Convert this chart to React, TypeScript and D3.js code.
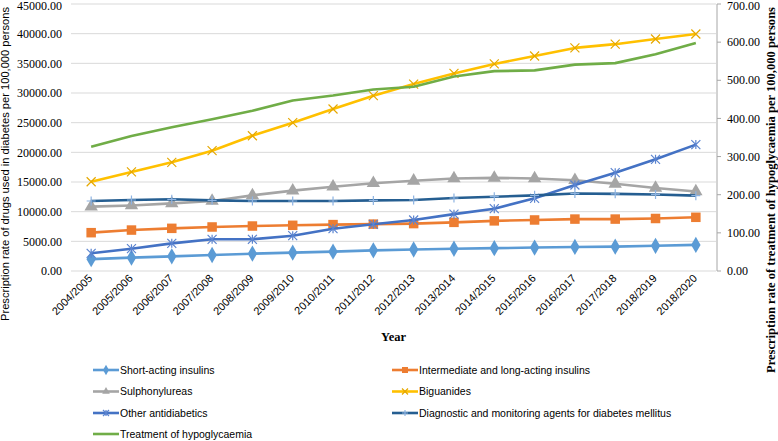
import React from "react";
import * as d3 from "d3";

const categories = ["2004/2005","2005/2006","2006/2007","2007/2008","2008/2009","2009/2010","2010/2011","2011/2012","2012/2013","2013/2014","2014/2015","2015/2016","2016/2017","2017/2018","2018/2019","2018/2020"];

const shortActing = [2000, 2250, 2470, 2700, 2920, 3090, 3260, 3480, 3620, 3750, 3850, 3950, 4050, 4100, 4250, 4400];
const intermediate = [6460, 6900, 7190, 7420, 7580, 7700, 7820, 7900, 7990, 8200, 8450, 8600, 8750, 8750, 8850, 9050];
const sulphonylureas = [10850, 11050, 11400, 11800, 12750, 13550, 14200, 14800, 15200, 15600, 15700, 15600, 15300, 14700, 14000, 13400];
const biguanides = [15050, 16700, 18320, 20280, 22800, 25000, 27300, 29550, 31500, 33300, 34900, 36240, 37600, 38230, 39100, 39950];
const otherAntidiabetics = [2980, 3760, 4660, 5340, 5340, 5950, 7130, 7870, 8600, 9580, 10500, 12250, 14490, 16570, 18820, 21300];
const diagnostic = [11800, 11970, 12080, 11910, 11800, 11800, 11800, 11900, 11970, 12300, 12520, 12750, 13050, 13000, 12900, 12700];
const hypoglycaemia = [326, 354, 377, 398, 420, 447, 460, 476, 483, 510, 524, 526, 541, 545, 568, 598];

const leftTicks = [0, 5000, 10000, 15000, 20000, 25000, 30000, 35000, 40000, 45000];
const rightTicks = [0, 100, 200, 300, 400, 500, 600, 700];

type Marker = "diamond" | "square" | "triangle" | "x" | "star" | "plus" | "none";
interface Series { name: string; values: number[]; color: string; markerColor: string; marker: Marker; axis: "left" | "right"; }

const series: Series[] = [
  { name: "Short-acting insulins", values: shortActing, color: "#5B9BD5", markerColor: "#4A8BC9", marker: "diamond", axis: "left" },
  { name: "Intermediate and long-acting insulins", values: intermediate, color: "#ED7D31", markerColor: "#E07020", marker: "square", axis: "left" },
  { name: "Sulphonylureas", values: sulphonylureas, color: "#A5A5A5", markerColor: "#999999", marker: "triangle", axis: "left" },
  { name: "Biguanides", values: biguanides, color: "#FFC000", markerColor: "#E6A800", marker: "x", axis: "left" },
  { name: "Other antidiabetics", values: otherAntidiabetics, color: "#4472C4", markerColor: "#5B84D0", marker: "star", axis: "left" },
  { name: "Diagnostic and monitoring agents for diabetes mellitus", values: diagnostic, color: "#255E91", markerColor: "#8DB3E2", marker: "plus", axis: "left" },
  { name: "Treatment of hypoglycaemia", values: hypoglycaemia, color: "#70AD47", markerColor: "#70AD47", marker: "none", axis: "right" },
];

const W = 778, H = 441;
const plotLeft = 71, plotRight = 716, plotTop = 4, plotBottom = 271;

function markerEl(m: Marker, x: number, y: number, color: string, s: number, key?: any) {
  const h = s / 2;
  switch (m) {
    case "diamond":
      return <path key={key} d={d3.symbol(d3.symbolDiamond, s * s * 0.85)()!} transform={`translate(${x},${y})`} fill={color} />;
    case "square":
      return <rect key={key} x={x - h} y={y - h} width={s} height={s} fill={color} />;
    case "triangle":
      return <path key={key} d={d3.symbol(d3.symbolTriangle, s * s * 0.7)()!} transform={`translate(${x},${y})`} fill={color} />;
    case "x":
      return <path key={key} d={`M${x - h},${y - h}L${x + h},${y + h}M${x - h},${y + h}L${x + h},${y - h}`} stroke={color} strokeWidth={1.2} fill="none" />;
    case "star":
      return <path key={key} d={`M${x - h},${y - h}L${x + h},${y + h}M${x - h},${y + h}L${x + h},${y - h}M${x},${y - h}L${x},${y + h}`} stroke={color} strokeWidth={1.2} fill="none" />;
    case "plus":
      return <path key={key} d={`M${x - h},${y}L${x + h},${y}M${x},${y - h}L${x},${y + h}`} stroke={color} strokeWidth={1.2} fill="none" />;
    default:
      return null;
  }
}

const markerSize: Record<Marker, number> = { diamond: 9.5, square: 9.5, triangle: 10.5, x: 9, star: 9, plus: 9, none: 0 };

export default function App() {
  const x = d3.scaleBand<string>().domain(categories).range([plotLeft, plotRight]);
  const cx = (c: string) => (x(c) as number) + x.bandwidth() / 2;
  const yL = d3.scaleLinear().domain([0, 45000]).range([plotBottom, plotTop]);
  const yR = d3.scaleLinear().domain([0, 700]).range([plotBottom, plotTop]);

  const legendCols = [93, 392];
  const legendRows = [370, 391.5, 413, 434];

  return (
    <div style={{ position: "fixed", left: 0, top: 0 }}>
      <svg width={W} height={H} style={{ display: "block", background: "#fff" }}>
        {/* gridlines */}
        {leftTicks.map((t) => (
          <line key={t} x1={plotLeft} x2={plotRight} y1={yL(t)} y2={yL(t)} stroke="#D9D9D9" strokeWidth={1} />
        ))}
        {/* left tick labels */}
        {leftTicks.map((t) => (
          <text key={t} x={62} y={Math.max(yL(t), 6)} dy="0.35em" textAnchor="end" fontFamily="'Liberation Serif', serif" fontSize={12} fill="#000">
            {t.toFixed(2)}
          </text>
        ))}
        {/* right axis */}
        <line x1={717} x2={717} y1={plotTop} y2={plotBottom} stroke="#A6A6A6" strokeWidth={1} />
        {rightTicks.map((t) => (
          <g key={t}>
            <line x1={717} x2={721} y1={yR(t)} y2={yR(t)} stroke="#A6A6A6" strokeWidth={1} />
            <text x={727} y={Math.max(yR(t), 6)} dy="0.35em" textAnchor="start" fontFamily="'Liberation Serif', serif" fontSize={12} fill="#000">
              {t.toFixed(2)}
            </text>
          </g>
        ))}
        {/* x labels */}
        {categories.map((c) => (
          <text key={c} transform={`translate(${cx(c) + 2},${279}) rotate(-45)`} textAnchor="end" fontFamily="'Liberation Sans', Arial, sans-serif" fontSize={11} fill="#000">
            {c}
          </text>
        ))}
        <text x={(plotLeft + plotRight) / 2} y={341} textAnchor="middle" fontFamily="'Liberation Serif', serif" fontWeight="bold" fontSize={12.5} fill="#000">
          Year
        </text>
        {/* axis titles */}
        <text transform="translate(9,7) rotate(-90)" textAnchor="end" fontFamily="'Liberation Sans', Arial, sans-serif" fontSize={10.5} textLength={314} lengthAdjust="spacingAndGlyphs" fill="#000">
          Prescription rate of drugs used in diabetes per 100,000 persons
        </text>
        <text transform="translate(775,7) rotate(-90)" textAnchor="end" fontFamily="'Liberation Serif', serif" fontWeight="bold" fontSize={11.5} textLength={366} lengthAdjust="spacingAndGlyphs" fill="#000">
          Prescription rate of treatment of hypoglycaemia per 100,000 persons
        </text>
        {/* lines */}
        {series.map((s) => {
          const y = s.axis === "left" ? yL : yR;
          const line = d3.line<number>().x((_, i) => cx(categories[i])).y((v) => y(v));
          return (
            <g key={s.name}>
              <path d={line(s.values)!} fill="none" stroke={s.color} strokeWidth={2.6} strokeLinejoin="round" />
              {s.values.map((v, i) => markerEl(s.marker, cx(categories[i]), y(v), s.marker === "diamond" || s.marker === "square" || s.marker === "triangle" ? s.color : s.markerColor, markerSize[s.marker], i))}
            </g>
          );
        })}
        {/* legend */}
        {series.map((s, i) => {
          const col = i % 2;
          const row = Math.floor(i / 2);
          const x0 = legendCols[col];
          const yy = legendRows[row];
          return (
            <g key={s.name}>
              <line x1={x0} x2={x0 + 26} y1={yy} y2={yy} stroke={s.color} strokeWidth={2.6} />
              {markerEl(s.marker, x0 + 13, yy, s.marker === "diamond" || s.marker === "square" || s.marker === "triangle" ? s.color : s.markerColor, 6)}
              <text x={x0 + 27} y={yy} dy="0.35em" fontFamily="'Liberation Sans', Arial, sans-serif" fontSize={10.5} fill="#000">
                {s.name}
              </text>
            </g>
          );
        })}
      </svg>
    </div>
  );
}
